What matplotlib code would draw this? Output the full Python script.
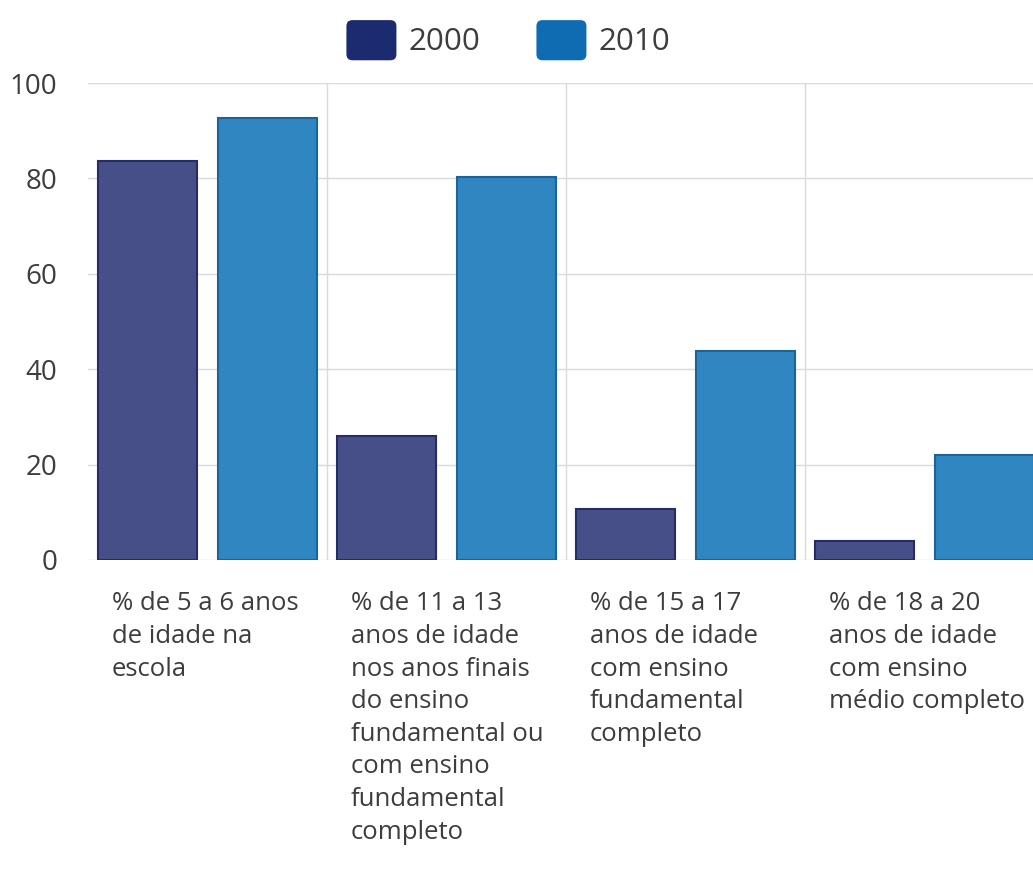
import matplotlib
matplotlib.use('Agg')
import matplotlib.pyplot as plt
import matplotlib.transforms as mtransforms
from matplotlib.patches import Patch, FancyBboxPatch
from matplotlib.legend_handler import HandlerPatch
import numpy as np

plt.rcParams['font.family'] = ['Open Sans', 'DejaVu Sans']

# dados
categorias = [
    '% de 5 a 6 anos\nde idade na\nescola',
    '% de 11 a 13\nanos de idade\nnos anos finais\ndo ensino\nfundamental ou\ncom ensino\nfundamental\ncompleto',
    '% de 15 a 17\nanos de idade\ncom ensino\nfundamental\ncompleto',
    '% de 18 a 20\nanos de idade\ncom ensino\nmédio completo',
]
valores_2000 = [83.6, 26.0, 10.7, 4.0]
valores_2010 = [92.7, 80.3, 43.8, 22.0]
series = ['2000', '2010']
y_ticks = [0, 20, 40, 60, 80, 100]

cor_texto = '#3d3d3d'
cor_grade = '#dadada'


class HandlerRounded(HandlerPatch):
    def create_artists(self, legend, orig_handle, xdescent, ydescent,
                       width, height, fontsize, trans):
        p = FancyBboxPatch((-xdescent, -ydescent), width, height,
                           boxstyle='round,pad=0,rounding_size=%f' % (height * 0.15),
                           facecolor=orig_handle.get_facecolor(),
                           edgecolor='none', transform=trans)
        return [p]


fig = plt.figure(figsize=(10.33, 8.74), dpi=100)
ax = fig.add_axes([0.0852, 0.3593, 0.9148, 0.5457])

x = np.arange(len(categorias))
largura = 0.414
ax.bar(x - 0.25, valores_2000, largura, color='#464f87', edgecolor='#262d66',
       linewidth=1.5, zorder=3)
ax.bar(x + 0.25, valores_2010, largura, color='#2f86c1', edgecolor='#1b6398',
       linewidth=1.5, zorder=3)

ax.set_xlim(-0.5, 3.454)
ax.set_ylim(0, 100)
ax.set_yticks(y_ticks)
ax.set_xticks([])
ax.tick_params(axis='y', length=0, pad=22, labelsize=20, labelcolor=cor_texto)
for s in ax.spines.values():
    s.set_visible(False)

for t in y_ticks:
    ax.axhline(t, color=cor_grade, lw=1, zorder=1)
for b in [0.5, 1.5, 2.5]:
    ax.axvline(b, color=cor_grade, lw=1, zorder=1)

trans = mtransforms.blended_transform_factory(ax.transData, ax.transAxes)
for i, lab in enumerate(categorias):
    ax.text(i - 0.4, -0.066, lab, transform=trans, ha='left', va='top',
            fontsize=18.5, color=cor_texto, linespacing=1.4)

handles = [Patch(facecolor='#1c2a70', label=series[0]),
           Patch(facecolor='#0f6cb3', label=series[1])]
fig.legend(handles=handles, loc='center', bbox_to_anchor=(0.492, 0.954), ncol=2,
           frameon=False, fontsize=22.5, handlelength=1.6, handleheight=1.6,
           handletextpad=0.38, columnspacing=1.8, labelcolor=cor_texto,
           handler_map={Patch: HandlerRounded()})

fig.savefig('out.png', dpi=100)
